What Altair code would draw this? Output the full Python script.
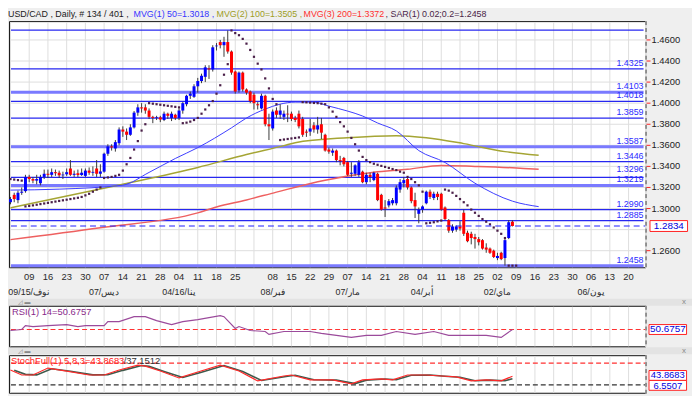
import altair as alt
import pandas as pd

# ---------------- data ----------------
opens = [1.3060,1.3130,1.3080,1.3150,1.3165,1.3300,1.3280,1.3265,1.3240,1.3300,
         1.3330,1.3320,1.3345,1.3340,1.3315,1.3325,1.3380,1.3320,1.3335,1.3318,
         1.3310,1.3360,1.3340,1.3380,1.3330,1.3350,1.3520,1.3590,1.3570,1.3620,
         1.3750,1.3730,1.3700,1.3770,1.3910,1.3960,1.3960,1.3930,1.3870,1.3860,
         1.3865,1.3840,1.3900,1.3860,1.3890,1.3860,1.3930,1.3990,1.4070,1.4060,
         1.4160,1.4210,1.4250,1.4330,1.4320,1.4540,1.4580,1.4550,1.4580,1.4490,
         1.4300,1.4120,1.4290,1.4130,1.4110,1.4080,1.3990,1.3950,1.4070,1.3800,
         1.3760,1.3930,1.3890,1.3870,1.3900,1.3900,1.3860,1.3900,1.3850,1.3730,
         1.3730,1.3790,1.3750,1.3800,1.3700,1.3560,1.3530,1.3550,1.3460,1.3480,
         1.3440,1.3330,1.3330,1.3320,1.3350,1.3250,1.3320,1.3270,1.3330,1.3130,
         1.3010,1.3030,1.3050,1.3050,1.3180,1.3240,1.3280,1.3200,1.3080,1.2950,
         1.2990,1.3050,1.3160,1.3100,1.3140,1.3140,1.3010,1.2890,1.2790,1.2800,
         1.2830,1.2960,1.2770,1.2760,1.2730,1.2710,1.2700,1.2630,1.2620,1.2600,
         1.2530,1.2580,1.2530,1.2720,1.2875]
highs = [1.3110,1.3150,1.3170,1.3200,1.3320,1.3320,1.3300,1.3320,1.3320,1.3370,
         1.3370,1.3380,1.3370,1.3360,1.3350,1.3380,1.3460,1.3360,1.3370,1.3380,
         1.3380,1.3390,1.3400,1.3460,1.3420,1.3530,1.3610,1.3610,1.3650,1.3770,
         1.3780,1.3760,1.3800,1.3925,1.3990,1.4000,1.3990,1.3950,1.3880,1.3880,
         1.3880,1.3920,1.3910,1.3920,1.3900,1.3950,1.4010,1.4080,1.4110,1.4180,
         1.4240,1.4280,1.4360,1.4360,1.4550,1.4570,1.4600,1.4630,1.4690,1.4500,
         1.4310,1.4300,1.4300,1.4140,1.4120,1.4100,1.4010,1.4090,1.4080,1.3900,
         1.3940,1.3960,1.3990,1.3930,1.3980,1.3920,1.3880,1.3930,1.3870,1.3750,
         1.3850,1.3820,1.3870,1.3860,1.3710,1.3580,1.3570,1.3560,1.3500,1.3490,
         1.3450,1.3440,1.3420,1.3460,1.3360,1.3340,1.3340,1.3350,1.3340,1.3140,
         1.3080,1.3090,1.3100,1.3220,1.3280,1.3300,1.3295,1.3210,1.3150,1.3010,
         1.3030,1.3170,1.3180,1.3160,1.3160,1.3150,1.3020,1.2900,1.2850,1.2840,
         1.2880,1.2990,1.2790,1.2780,1.2760,1.2730,1.2710,1.2670,1.2630,1.2610,
         1.2580,1.2590,1.2710,1.2890,1.2890]
lows = [1.3040,1.3060,1.3050,1.3130,1.3150,1.3250,1.3240,1.3230,1.3220,1.3280,
        1.3290,1.3300,1.3310,1.3290,1.3280,1.3310,1.3310,1.3300,1.3300,1.3310,
        1.3300,1.3320,1.3310,1.3300,1.3300,1.3340,1.3500,1.3550,1.3540,1.3600,
        1.3680,1.3650,1.3690,1.3760,1.3880,1.3910,1.3900,1.3850,1.3810,1.3840,
        1.3820,1.3830,1.3850,1.3830,1.3840,1.3840,1.3900,1.3970,1.4040,1.4050,
        1.4100,1.4190,1.4200,1.4230,1.4300,1.4500,1.4520,1.4440,1.4470,1.4270,
        1.4090,1.4100,1.4110,1.4080,1.4000,1.3940,1.3940,1.3940,1.3780,1.3650,
        1.3740,1.3860,1.3850,1.3840,1.3820,1.3830,1.3820,1.3760,1.3680,1.3680,
        1.3690,1.3720,1.3710,1.3660,1.3540,1.3520,1.3500,1.3440,1.3410,1.3400,
        1.3310,1.3300,1.3310,1.3300,1.3240,1.3230,1.3250,1.3260,1.3070,1.2980,
        1.2920,1.3010,1.3030,1.3030,1.3150,1.3200,1.3180,1.3050,1.2910,1.2860,
        1.2960,1.3040,1.3090,1.3080,1.3080,1.2980,1.2890,1.2770,1.2770,1.2780,
        1.2790,1.2740,1.2680,1.2660,1.2620,1.2650,1.2610,1.2580,1.2570,1.2530,
        1.2510,1.2510,1.2458,1.2710,1.2830]
closes = [1.3090,1.3090,1.3150,1.3160,1.3300,1.3280,1.3265,1.3280,1.3300,1.3330,
          1.3320,1.3345,1.3335,1.3315,1.3322,1.3345,1.3320,1.3330,1.3318,1.3340,
          1.3360,1.3340,1.3348,1.3330,1.3352,1.3520,1.3590,1.3580,1.3630,1.3750,
          1.3730,1.3700,1.3770,1.3910,1.3960,1.3950,1.3930,1.3870,1.3860,1.3866,
          1.3845,1.3900,1.3880,1.3900,1.3860,1.3930,1.4000,1.4070,1.4090,1.4160,
          1.4210,1.4260,1.4340,1.4320,1.4530,1.4546,1.4550,1.4580,1.4490,1.4290,
          1.4110,1.4290,1.4130,1.4100,1.4020,1.4000,1.3980,1.4070,1.3800,1.3780,
          1.3920,1.3890,1.3930,1.3900,1.3893,1.3850,1.3840,1.3780,1.3700,1.3720,
          1.3760,1.3750,1.3790,1.3720,1.3550,1.3540,1.3550,1.3460,1.3450,1.3420,
          1.3320,1.3340,1.3410,1.3440,1.3250,1.3320,1.3300,1.3340,1.3080,1.2990,
          1.3000,1.3070,1.3080,1.3200,1.3250,1.3270,1.3200,1.3070,1.3020,1.2990,
          1.3020,1.3160,1.3110,1.3140,1.3110,1.2990,1.2900,1.2790,1.2830,1.2830,
          1.2810,1.2760,1.2690,1.2720,1.2710,1.2680,1.2620,1.2610,1.2580,1.2540,
          1.2550,1.2520,1.2700,1.2870,1.2834]

sar_vals = [1.3280,1.3275,1.3270,1.3265,
            1.3020,1.3025,1.3030,1.3036,1.3042,1.3048,1.3054,1.3060,1.3066,1.3072,1.3078,
            1.3084,1.3090,1.3096,1.3102,1.3110,1.3125,1.3140,1.3160,1.3180,1.3200,
            1.3290,1.3295,1.3300,1.3310,1.3320,
            1.3360,1.3420,1.3480,1.3560,1.3640,1.3740,1.3800,
            1.4000,1.3995,1.3990,1.3985,1.3980,1.3975,1.3970,1.3965,1.3960,
            1.3810,1.3815,1.3825,1.3840,1.3860,1.3900,1.3940,1.3980,1.4020,1.4090,1.4170,1.4270,1.4370,
            1.4690,1.4665,1.4645,1.4610,1.4565,1.4505,1.4440,1.4375,1.4320,1.4235,1.4140,1.4040,1.3990,
            1.3650,1.3655,1.3660,1.3665,1.3670,1.3675,
            1.4010,1.4008,1.4005,1.4002,1.4000,1.3995,1.3990,
            1.3960,1.3920,1.3870,1.3820,1.3780,1.3730,1.3670,1.3610,1.3550,1.3490,
            1.3460,1.3440,1.3425,1.3415,1.3405,1.3395,1.3385,1.3375,1.3365,1.3350,1.3340,
            1.3300,1.3280,1.3250,1.3220,1.3160,
            1.2860,1.2865,1.2870,1.2878,1.2886,
            1.3180,1.3170,1.3150,1.3120,1.3090,1.3060,1.3030,1.2990,1.2960,1.2930,1.2900,
            1.2875,1.2850,1.2820,1.2790,1.2760,
            1.2720,1.2458,1.2458,1.2458]

ma50_idx = [0, 13, 30, 37, 44, 50, 59, 63, 68, 72, 76, 81, 85, 90, 94, 98, 103, 109, 116, 124, 134, 141]
ma50_val = [1.3175, 1.3184, 1.3222, 1.3343, 1.3475, 1.3578, 1.3766, 1.3859, 1.3944, 1.3991, 1.4010,
            1.4010, 1.3972, 1.3925, 1.3878, 1.3812, 1.3737, 1.3550, 1.3437, 1.3240, 1.3070, 1.3018]
ma100_idx = [0, 30, 50, 63, 73, 76, 90, 103, 111, 121, 132, 141]
ma100_val = [1.3006, 1.3231, 1.3390, 1.3512, 1.3597, 1.3625, 1.3672, 1.3691, 1.3672, 1.3616, 1.3540, 1.3505]
ma200_idx = [0, 24, 50, 55, 63, 71, 84, 97, 106, 115, 124, 137, 141]
ma200_val = [1.2705, 1.2818, 1.2959, 1.3015, 1.3081, 1.3156, 1.3269, 1.3344, 1.3372, 1.3409, 1.3400, 1.3381, 1.3372]

levels = [1.4694, 1.4325, 1.4103, 1.4018, 1.3859, 1.3587, 1.3446, 1.3296, 1.3219, 1.2990, 1.2885, 1.2458]
level_text = ["", "1.4325", "1.4103", "1.4018", "1.3859", "1.3587", "1.3446", "1.3296", "1.3219",
              "1.2990", "1.2885", "1.2458"]
last_price = 1.2834
last_price_text = "1.2834"

price_ticks = [1.26, 1.28, 1.30, 1.32, 1.34, 1.36, 1.38, 1.40, 1.42, 1.44, 1.46]
price_tick_text = ["1.2600", "", "1.3000", "1.3200", "1.3400", "1.3600", "1.3800", "1.4000",
                   "1.4200", "1.4400", "1.4600"]

week_idx = [0, 5, 10, 15, 20, 25, 30, 35, 40, 45, 50, 55, 60, 65, 70, 75, 80, 85, 90, 95,
            100, 105, 110, 115, 120, 125, 130, 135, 140, 145, 150, 155, 160, 165]
day_text = ["", "09", "16", "23", "30", "07", "14", "21", "28", "04", "11", "18", "25", "",
            "08", "15", "22", "29", "07", "14", "21", "28", "04", "11", "18", "25", "02",
            "09", "16", "23", "30", "06", "13", "20"]
month_idx = [5, 25, 45, 70, 90, 110, 130, 155]
month_text = ["09/15/نوف", "07/ديس", "04/16/ينا", "08/فبر", "07/مار", "04/أبر", "02/ماي", "06/يون"]

rsi_idx = [0, 3, 4, 6, 10, 15, 18, 20, 25, 26, 29, 33, 36, 39, 43, 46, 50, 56, 57, 60, 61, 64, 68,
           69, 73, 80, 83, 89, 91, 95, 99, 103, 108, 113, 117, 122, 127, 131, 134]
rsi_val = [48.8, 50.7, 58.2, 56.3, 58.2, 60.1, 56.3, 58.2, 58.2, 65.7, 65.7, 75.1, 75.1, 67.6, 60.1,
           65.7, 69.5, 77.0, 75.1, 52.6, 56.3, 48.8, 46.9, 41.3, 46.9, 46.9, 43.2, 37.5, 35.6, 39.4,
           39.4, 46.9, 41.3, 46.9, 39.4, 39.4, 39.4, 35.6, 50.68]
rsi_last = 50.6757

stk_idx = [0, 3, 6, 10, 15, 21, 25, 29, 34, 36, 40, 45, 50, 56, 61, 66, 73, 75, 80, 86, 91, 94, 99,
           102, 106, 111, 115, 119, 123, 127, 131, 134]
stk_val = [60.9, 47.2, 47.2, 66.3, 58.1, 47.2, 47.2, 60.9, 74.5, 71.8, 58.1, 39.1, 55.4, 74.5, 58.1,
           30.9, 44.5, 47.2, 33.6, 33.6, 22.7, 33.6, 36.3, 33.6, 47.2, 47.2, 44.5, 41.8, 30.9, 33.6,
           30.9, 43.87]
std_idx = [1, 4, 7, 11, 16, 22, 26, 30, 35, 37, 41, 46, 51, 57, 62, 67, 74, 76, 81, 87, 92, 95, 100,
           103, 107, 112, 116, 120, 124, 128, 132, 134]
std_val = [60.0, 49.0, 47.5, 64.5, 57.5, 47.5, 48.0, 60.0, 73.5, 71.0, 57.0, 40.5, 55.0, 73.5, 57.0,
           32.0, 44.0, 46.5, 34.0, 33.0, 23.5, 33.0, 36.0, 34.0, 46.5, 47.0, 44.0, 41.0, 31.5, 33.0,
           31.5, 37.15]
stoch_levels = [80, 20]

header_parts = ["USD/CAD , Daily, # 134 / 401 ,", "MVG(1) 50=1.3018 ,", "MVG(2) 100=1.3505 ,",
                "MVG(3) 200=1.3372", ", SAR(1) 0.02;0.2=1.2458"]

# ---------------- layout / style ----------------
FONT = "Liberation Sans"
W, H = 692, 388
PX0, PX1 = 1, 645            # plot left/right (canvas px)
MT, MB = 11, 260             # main panel top/bottom
RT, RB = 299, 340            # RSI panel
ST, SB = 349, 387            # Stoch panel
HEAVY = {1.4103, 1.3587, 1.3219, 1.2458}
NUDGE_UP = {1.3296}          # label lifted a little to clear its close neighbour

xs = alt.Scale(domain=[-0.396, 169.53], range=[PX0, PX1], nice=False, zero=False)
ys_main = alt.Scale(domain=[1.24429, 1.47787], range=[MB, MT], nice=False, zero=False)
ys_rsi = alt.Scale(domain=[18.72, 95.8], range=[RB, RT], nice=False, zero=False)
ys_sto = alt.Scale(domain=[-1.8, 101.8], range=[SB, ST], nice=False, zero=False)

def X(field="i"):
    return alt.X(f"{field}:Q", scale=xs, axis=None)

def YM(field):
    return alt.Y(f"{field}:Q", scale=ys_main, axis=None)

one = pd.DataFrame({"a": [0]})
bars = pd.DataFrame({"i": list(range(len(closes))), "open": opens, "high": highs,
                     "low": lows, "close": closes})
bars["high"] = bars[["high", "open", "close"]].max(axis=1)
bars["low"] = bars[["low", "open", "close"]].min(axis=1)
sar_df = pd.DataFrame({"i": list(range(len(sar_vals))), "v": sar_vals})
ma50 = pd.DataFrame({"i": ma50_idx, "v": ma50_val})
ma100 = pd.DataFrame({"i": ma100_idx, "v": ma100_val})
ma200 = pd.DataFrame({"i": ma200_idx, "v": ma200_val})
lv = pd.DataFrame({"p": levels, "t": level_text, "heavy": [l in HEAVY for l in levels],
                   "up": [l in NUDGE_UP for l in levels]})
lp = pd.DataFrame({"p": [last_price], "t": [last_price_text]})
pt = pd.DataFrame({"p": price_ticks, "t": price_tick_text})
wk = pd.DataFrame({"i": week_idx, "t": day_text})
mo = pd.DataFrame({"i": month_idx, "t": month_text})
rsi = pd.DataFrame({"i": rsi_idx, "v": rsi_val})
rl = pd.DataFrame({"v": [rsi_last], "t": ["%.4f" % rsi_last]})
stk = pd.DataFrame({"i": stk_idx, "v": stk_val})
std = pd.DataFrame({"i": std_idx, "v": std_val})
sl = pd.DataFrame({"v": stoch_levels, "c": ["#ff3030", "#333333"]})


def frame(top, bottom):
    box = alt.Chart(one).mark_rect(fill="white", stroke="#111111", strokeWidth=1).encode(
        x=alt.value(PX0 + 0.5), x2=alt.value(PX1 + 0.5), y=alt.value(top + 0.5), y2=alt.value(bottom + 0.5))
    grid = alt.Chart(wk).mark_rule(color="#dedede", strokeWidth=1).encode(
        x=X(), y=alt.value(top + 1), y2=alt.value(bottom))
    return box, grid


def right_dash(top, bottom):
    w = alt.Chart(one).mark_rule(color="white", strokeWidth=1.5).encode(
        x=alt.value(PX1 + 0.5), y=alt.value(top), y2=alt.value(bottom + 1))
    d = alt.Chart(one).mark_rule(color="#444444", strokeWidth=1, strokeDash=[4, 3]).encode(
        x=alt.value(PX1 + 0.5), y=alt.value(top), y2=alt.value(bottom + 1))
    return w, d


# ---------------- main panel ----------------
mbox, mgrid = frame(MT, MB)
hgrid = alt.Chart(pt).mark_rule(color="#dedede").encode(
    y=YM("p"), x=alt.value(PX0 + 1), x2=alt.value(PX1))
lv_thin = alt.Chart(lv).transform_filter("!datum.heavy").mark_rule(
    color="#2727f0", strokeWidth=1.3).encode(y=YM("p"), x=alt.value(3), x2=alt.value(643))
lv_heavy = alt.Chart(lv).transform_filter("datum.heavy").mark_rule(
    color="#7a7aff", strokeWidth=3).encode(y=YM("p"), x=alt.value(3), x2=alt.value(643))
lv_text = alt.Chart(lv).transform_filter("!datum.up").mark_text(
    align="right", baseline="bottom", dy=-1, fontSize=9, font=FONT, color="#2b2bff").encode(
    y=YM("p"), x=alt.value(643), text="t:N")
lv_text_up = alt.Chart(lv).transform_filter("datum.up").mark_text(
    align="right", baseline="bottom", dy=-3, fontSize=9, font=FONT, color="#2b2bff").encode(
    y=YM("p"), x=alt.value(643), text="t:N")
l50 = alt.Chart(ma50).mark_line(color="#3d3dff", strokeWidth=1, interpolate="monotone").encode(x=X(), y=YM("v"))
l100 = alt.Chart(ma100).mark_line(color="#a5a534", strokeWidth=1.5, interpolate="monotone").encode(x=X(), y=YM("v"))
l200 = alt.Chart(ma200).mark_line(color="#ee6060", strokeWidth=1.5, interpolate="monotone").encode(x=X(), y=YM("v"))
wicks = alt.Chart(bars).mark_rule(color="#3a3a3a", strokeWidth=1).encode(
    x=X(), y=YM("low"), y2="high:Q")
bodies = alt.Chart(bars).mark_rule(strokeWidth=3).encode(
    x=X(), y=YM("open"), y2="close:Q",
    color=alt.condition("datum.close >= datum.open", alt.value("#0000ff"), alt.value("#ff0000")))
sar = alt.Chart(sar_df).mark_square(size=5, color="#4a1f48", opacity=1).encode(x=X(), y=YM("v"))
lastline = alt.Chart(lp).mark_rule(color="#2020ff", strokeWidth=1.2, strokeDash=[6, 4]).encode(
    y=YM("p"), x=alt.value(3), x2=alt.value(PX1))
mw, md = right_dash(MT, MB)
pticks = alt.Chart(pt).transform_filter("datum.t != ''").mark_rule(color="#ff2020").encode(
    y=YM("p"), x=alt.value(PX1 + 1), x2=alt.value(PX1 + 5))
plabels = alt.Chart(pt).mark_text(align="left", baseline="middle", fontSize=9.5, font=FONT,
                                  color="#222222").encode(y=YM("p"), x=alt.value(651), text="t:N")
lbox = alt.Chart(lp).mark_rect(fill="white", stroke="#ff2020", strokeWidth=1, yOffset=-5.5,
                               y2Offset=5.5).encode(
    x=alt.value(649.5), x2=alt.value(687.5), y=YM("p"), y2="p:Q")
ltext = alt.Chart(lp).mark_text(align="center", baseline="middle", fontSize=10, font=FONT,
                                color="#0000dd").encode(x=alt.value(668.5), y=YM("p"), text="t:N")
xday = alt.Chart(wk).mark_text(baseline="middle", fontSize=9.5, font=FONT, color="#2a2a2a").encode(
    x=X(), y=alt.value(270), text="t:N")
xmon = alt.Chart(mo).mark_text(baseline="middle", fontSize=9, font=FONT, color="#2a2a2a").encode(
    x=X(), y=alt.value(285), text="t:N")

main = alt.layer(mbox, mgrid, hgrid, lv_heavy, lv_thin, lv_text, lv_text_up, l100, l200, l50,
                 wicks, bodies, sar, lastline, mw, md, pticks, plabels, lbox, ltext, xday, xmon)

# ---------------- RSI panel ----------------
def YR(field):
    return alt.Y(f"{field}:Q", scale=ys_rsi, axis=None)

rbox, rgrid = frame(RT, RB)
rline = alt.Chart(rsi).mark_line(color="#9b4a9b", strokeWidth=1.2).encode(x=X(), y=YR("v"))
rdash = alt.Chart(rl).mark_rule(color="#ff3030", strokeDash=[5, 3]).encode(
    y=YR("v"), x=alt.value(3), x2=alt.value(PX1))
rw, rd = right_dash(RT, RB)
rlabel = alt.Chart(one).mark_text(text="RSI(1) 14=50.6757", align="left", baseline="middle",
                                  fontSize=9.5, font=FONT, color="#8a2a8a").encode(
    x=alt.value(4), y=alt.value(RT + 6))
rbx = alt.Chart(rl).mark_rect(fill="white", stroke="#ff2020", strokeWidth=1, yOffset=-5,
                              y2Offset=5).encode(x=alt.value(648.5), x2=alt.value(686.5), y=YR("v"), y2="v:Q")
rtx = alt.Chart(rl).mark_text(align="center", baseline="middle", fontSize=10, font=FONT,
                              color="#0000dd").encode(x=alt.value(667.5), y=YR("v"), text="t:N")
rsi_layer = alt.layer(rbox, rgrid, rdash, rline, rw, rd, rlabel, rbx, rtx)

# ---------------- Stoch panel ----------------
def YS(field):
    return alt.Y(f"{field}:Q", scale=ys_sto, axis=None)

sbox, sgrid = frame(ST, SB)
sdash = alt.Chart(sl).mark_rule(strokeDash=[5, 3], strokeWidth=1.2).encode(
    y=YS("v"), x=alt.value(3), x2=alt.value(PX1), color=alt.Color("c:N", scale=None))
dline = alt.Chart(std).mark_line(color="#3f5a4c", strokeWidth=1.6).encode(x=X(), y=YS("v"))
kline = alt.Chart(stk).mark_line(color="#ff2a2a", strokeWidth=1.2).encode(x=X(), y=YS("v"))
sw, sd = right_dash(ST, SB)
slab1 = alt.Chart(one).mark_text(text="StochFull(1) 5,8,3=43.8683", align="left", baseline="middle",
                                 fontSize=9.5, font=FONT, color="#ff2020").encode(
    x=alt.value(3), y=alt.value(ST + 6))
slab2 = alt.Chart(one).mark_text(text="/37.1512", align="left", baseline="middle",
                                 fontSize=9.5, font=FONT, color="#333333").encode(
    x=alt.value(117), y=alt.value(ST + 6))
sb1 = alt.Chart(one).mark_rect(fill="white", stroke="#ff2020", strokeWidth=1).encode(
    x=alt.value(648.5), x2=alt.value(686.5), y=alt.value(364.5), y2=alt.value(374.5))
st1 = alt.Chart(one).mark_text(text="43.8683", align="center", baseline="middle", fontSize=9.5,
                               font=FONT, color="#0000dd").encode(x=alt.value(667.5), y=alt.value(369.5))
sb2 = alt.Chart(one).mark_rect(fill="white", stroke="#ff2020", strokeWidth=1).encode(
    x=alt.value(648.5), x2=alt.value(686.5), y=alt.value(374.5), y2=alt.value(384.5))
st2 = alt.Chart(one).mark_text(text="6.5507", align="center", baseline="middle", fontSize=9.5,
                               font=FONT, color="#0000dd").encode(x=alt.value(667.5), y=alt.value(380))
sto_layer = alt.layer(sbox, sgrid, sdash, dline, kline, sw, sd, slab1, slab2, sb1, st1, sb2, st2)

# ---------------- decorations ----------------
hdr_x = [0, 127, 211, 299, 382]
hdr_c = ["#1a1a1a", "#3535ff", "#9d9d25", "#ff3030", "#4a1f48"]
deco = []
for txt, xx, cc in zip(header_parts, hdr_x, hdr_c):
    deco.append(alt.Chart(one).mark_text(text=txt, align="left", baseline="top", fontSize=9,
                                         font=FONT, color=cc).encode(x=alt.value(xx), y=alt.value(0)))
for top in (292, 341):
    deco.append(alt.Chart(one).mark_rect(fill="#e3e3e3").encode(
        x=alt.value(0), x2=alt.value(W), y=alt.value(top), y2=alt.value(top + 7)))
    deco.append(alt.Chart(one).mark_text(text="x", fontSize=8, font=FONT, color="#888888",
                                         baseline="middle").encode(x=alt.value(684), y=alt.value(top + 3.5)))
    deco.append(alt.Chart(one).mark_text(text="◿ ▬", fontSize=6, font=FONT, color="#888888",
                                         align="left", baseline="middle").encode(x=alt.value(10), y=alt.value(top + 3.5)))
deco_layer = alt.layer(*deco)

chart = alt.layer(deco_layer, main, rsi_layer, sto_layer).resolve_scale(
    y="independent").properties(
    width=W, height=H, autosize=alt.AutoSizeParams(type="none"), padding=0,
    background="#efefef").configure_view(stroke=None)

chart.save("out.html", embed_options={"renderer": "svg", "actions": False})
